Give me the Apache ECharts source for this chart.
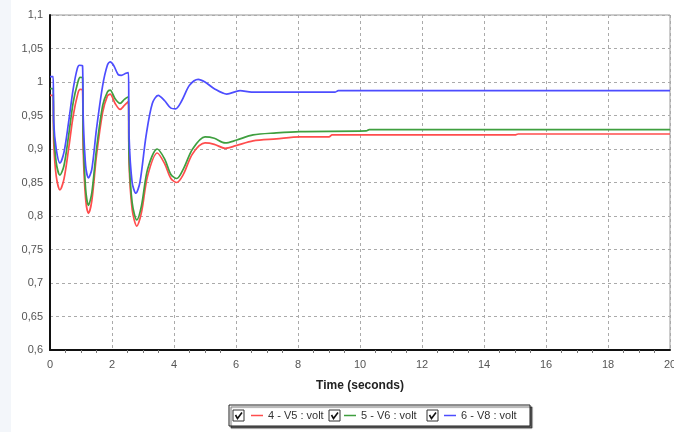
<!DOCTYPE html>
<html>
<head>
<meta charset="utf-8">
<script src="https://cdn.jsdelivr.net/npm/echarts@6/dist/echarts.min.js"></script>
<style>html,body{margin:0;padding:0;background:#fff;}#c{width:674px;height:432px;}</style>
</head>
<body>
<div id="c"></div>
<script>
var seriesNames = ['4 - V5 : volt', '5 - V6 : volt', '6 - V8 : volt'];
var xTicks = [0, 2, 4, 6, 8, 10, 12, 14, 16, 18, 20];
var yTicks = [0.6, 0.65, 0.7, 0.75, 0.8, 0.85, 0.9, 0.95, 1, 1.05, 1.1];

var redData = [[0,0.98],[0.1,0.98],[0.12,0.91],[0.2,0.86],[0.32,0.839],[0.45,0.855],[0.6,0.9],[0.75,0.95],[0.9,0.983],[0.97,0.989],[1.05,0.988],[1.07,0.9],[1.15,0.825],[1.24,0.804],[1.35,0.823],[1.5,0.89],[1.7,0.955],[1.85,0.979],[1.94,0.982],[2.1,0.968],[2.26,0.959],[2.4,0.965],[2.53,0.971],[2.55,0.88],[2.65,0.81],[2.8,0.785],[2.95,0.805],[3.15,0.86],[3.46,0.894],[3.7,0.878],[3.9,0.856],[4.09,0.85],[4.3,0.862],[4.6,0.893],[5.0,0.909],[5.3,0.907],[5.65,0.901],[6.0,0.905],[6.55,0.912],[7.3,0.915],[8.06,0.918],[9.0,0.918],[9.1,0.921],[15.0,0.921],[15.1,0.9224],[20,0.9224]];
var greenData = [[0,0.99],[0.1,0.99],[0.12,0.93],[0.2,0.88],[0.32,0.861],[0.45,0.875],[0.6,0.92],[0.75,0.97],[0.9,1.0],[0.97,1.007],[1.05,1.006],[1.07,0.92],[1.15,0.84],[1.24,0.816],[1.35,0.835],[1.5,0.9],[1.7,0.965],[1.85,0.985],[1.94,0.988],[2.1,0.975],[2.26,0.968],[2.4,0.974],[2.53,0.978],[2.55,0.89],[2.65,0.82],[2.8,0.794],[2.95,0.815],[3.15,0.87],[3.46,0.9],[3.7,0.885],[3.9,0.862],[4.09,0.856],[4.3,0.87],[4.6,0.9],[5.0,0.918],[5.3,0.916],[5.65,0.909],[6.0,0.913],[6.55,0.921],[7.3,0.924],[8.06,0.926],[10.2,0.927],[10.3,0.929],[20,0.929]];
var blueData = [[0,1.008],[0.1,1.008],[0.12,0.94],[0.2,0.9],[0.32,0.879],[0.45,0.895],[0.6,0.94],[0.75,0.99],[0.88,1.02],[0.95,1.025],[1.05,1.024],[1.07,0.95],[1.15,0.875],[1.24,0.857],[1.35,0.87],[1.5,0.93],[1.7,0.995],[1.85,1.025],[1.94,1.03],[2.05,1.025],[2.2,1.011],[2.3,1.01],[2.45,1.013],[2.53,1.014],[2.55,0.92],[2.65,0.85],[2.77,0.834],[2.9,0.85],[3.1,0.92],[3.3,0.968],[3.49,0.98],[3.7,0.972],[3.9,0.961],[4.05,0.96],[4.25,0.972],[4.5,0.995],[4.78,1.004],[5.0,1.0],[5.3,0.99],[5.7,0.982],[6.13,0.987],[6.5,0.985],[7.5,0.985],[9.2,0.985],[9.3,0.987],[20,0.987]];

var colors = ['#ff4d4d', '#3f9f3f', '#4d4dff'];

function checkbox(x, y) {
  return {
    type: 'group', x: x, y: y,
    children: [
      { type: 'rect', shape: { x: 0, y: 0, width: 11, height: 11 }, style: { fill: '#fff', stroke: '#333', lineWidth: 1 } },
      { type: 'polyline', shape: { points: [[2.5, 5], [4.5, 8.5], [9, 2.5]] }, style: { stroke: '#111', lineWidth: 1.6, fill: null } }
    ]
  };
}

var chart = echarts.init(document.getElementById('c'), null, { renderer: 'canvas' });
var legendLefts = [251, 344, 444];
var option = {
  animation: false,
  backgroundColor: '#fff',
  textStyle: { fontFamily: 'Liberation Sans' },
  grid: { left: 50, right: 4, top: 15, bottom: 82, show: true, borderColor: '#999', borderWidth: 1, backgroundColor: '#fff', containLabel: false, outerBoundsMode: 'none' },
  xAxis: {
    type: 'value', min: xTicks[0], max: xTicks[xTicks.length - 1], interval: 2,
    name: 'Time (seconds)', nameLocation: 'middle', nameGap: 30,
    nameTextStyle: { fontWeight: 'bold', fontSize: 12, color: '#222', fontFamily: 'Liberation Sans' },
    axisLine: { show: true, lineStyle: { color: '#111', width: 2 } },
    axisTick: { show: false },
    minorTick: { show: true, splitNumber: 4, length: 3, lineStyle: { color: '#777' } },
    axisLabel: { color: '#555', fontSize: 11, margin: 9 },
    splitLine: { show: true, lineStyle: { color: '#aaa', type: [3, 3], width: 1 } }
  },
  yAxis: {
    type: 'value', min: yTicks[0], max: yTicks[yTicks.length - 1], interval: 0.05,
    axisLine: { show: true, lineStyle: { color: '#111', width: 2 } },
    axisTick: { show: false },
    axisLabel: { color: '#555', fontSize: 11, margin: 7, formatter: function (v) { return String(+v.toFixed(2)).replace('.', ','); } },
    splitLine: { show: true, lineStyle: { color: '#aaa', type: [3, 3], width: 1 } }
  },
  legend: seriesNames.map(function (n, i) {
    return {
      data: [n], left: legendLefts[i], top: 410, icon: 'rect', itemWidth: 12, itemHeight: 1.5,
      selectedMode: false, padding: 0,
      textStyle: { fontSize: 11, color: '#333', fontFamily: 'Liberation Sans' }
    };
  }),
  graphic: [
    { type: 'rect', left: 0, top: 0, shape: { width: 11, height: 432 }, style: { fill: '#f3f6fa' }, z: -10 },
    { type: 'rect', shape: { x: 229, y: 405, width: 301, height: 21 }, style: { fill: '#fff', stroke: '#222', lineWidth: 1, shadowColor: 'rgba(0,0,0,0.6)', shadowOffsetX: 2, shadowOffsetY: 2, shadowBlur: 1 }, z: -1 },
    checkbox(233, 410), checkbox(329, 410), checkbox(427, 410)
  ],
  series: [
    { name: seriesNames[0], type: 'line', data: redData, showSymbol: false, smooth: 0.3, lineStyle: { width: 1.7, color: colors[0] }, itemStyle: { color: colors[0] } },
    { name: seriesNames[1], type: 'line', data: greenData, showSymbol: false, smooth: 0.3, lineStyle: { width: 1.7, color: colors[1] }, itemStyle: { color: colors[1] } },
    { name: seriesNames[2], type: 'line', data: blueData, showSymbol: false, smooth: 0.3, lineStyle: { width: 1.7, color: colors[2] }, itemStyle: { color: colors[2] } }
  ]
};
chart.setOption(option);
</script>
</body>
</html>
